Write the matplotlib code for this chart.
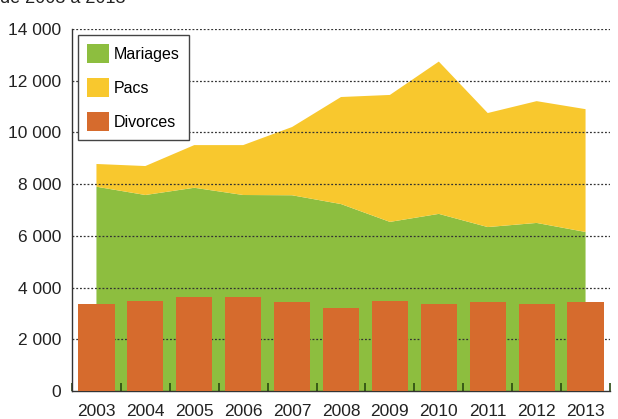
import matplotlib
matplotlib.use("Agg")
import matplotlib.pyplot as plt
from matplotlib.patches import Patch
from matplotlib.ticker import FixedLocator
import numpy as np

years = ["2003", "2004", "2005", "2006", "2007", "2008", "2009", "2010", "2011", "2012", "2013"]
mariages = [7900, 7580, 7860, 7580, 7570, 7230, 6540, 6850, 6340, 6500, 6150]
totaux = [8780, 8700, 9510, 9510, 10210, 11370, 11450, 12740, 10750, 11210, 10900]
pacs = [t - m for t, m in zip(totaux, mariages)]
divorces = [3350, 3490, 3650, 3650, 3430, 3200, 3490, 3360, 3430, 3350, 3450]
yticks = [0, 2000, 4000, 6000, 8000, 10000, 12000, 14000]
ylabels = ["0", "2 000", "4 000", "6 000", "8 000", "10 000", "12 000", "14 000"]

GREEN = "#8DBE3F"
YELLOW = "#F8C82E"
ORANGE = "#D66B2D"
FONT = ["Liberation Sans Narrow", "Liberation Sans", "DejaVu Sans"]
plt.rcParams["font.family"] = FONT

fig = plt.figure(figsize=(6.18, 4.19), dpi=100)
ax = fig.add_axes([72/618, 28/419, 538/618, 362/419])

x = np.arange(len(years))
ax.stackplot(x, mariages, pacs, colors=[GREEN, YELLOW], zorder=1, linewidth=0)
for yv in yticks[1:]:
    ax.axhline(yv, color="#333333", lw=0.9, ls=(0, (1.5, 1.5)), zorder=2)
ax.bar(x, divorces, width=0.74, color=ORANGE, zorder=3)

ax.set_xlim(-0.5, len(years) - 0.5)
ax.set_ylim(0, 14000)
ax.set_yticks(yticks)
ax.set_yticklabels(ylabels)
ax.set_xticks(x)
ax.set_xticklabels(years)
ax.tick_params(axis="y", length=0, pad=8, labelsize=12.5, colors="#222222")
ax.tick_params(axis="x", which="major", length=0, pad=9, labelsize=12.5, colors="#222222")
ax.xaxis.set_minor_locator(FixedLocator(np.arange(-0.5, len(years), 1.0)))
ax.tick_params(axis="x", which="minor", direction="in", length=6, width=1.2, color="#2a4a10")

for s in ["top", "right"]:
    ax.spines[s].set_visible(False)
for s in ["left", "bottom"]:
    ax.spines[s].set_color("#333333")
    ax.spines[s].set_linewidth(1.0)

handles = [Patch(facecolor=GREEN, edgecolor="none"),
           Patch(facecolor=YELLOW, edgecolor="none"),
           Patch(facecolor=ORANGE, edgecolor="none")]
leg = ax.legend(handles, ["Mariages", "Pacs", "Divorces"], loc="upper left",
                bbox_to_anchor=(6/538, 1 - 6/362), fontsize=11.5, fancybox=False,
                edgecolor="#444444", framealpha=1, handlelength=1.4, handleheight=1.45,
                labelspacing=0.95, handletextpad=0.3, borderpad=0.55, borderaxespad=0)
leg.get_frame().set_linewidth(1.0)
leg.set_zorder(5)

fig.text(0.0, 1 - 3/419, "de 2003 à 2013", fontsize=13, va="baseline", ha="left", color="#222222")

fig.savefig("out.png", dpi=100)
